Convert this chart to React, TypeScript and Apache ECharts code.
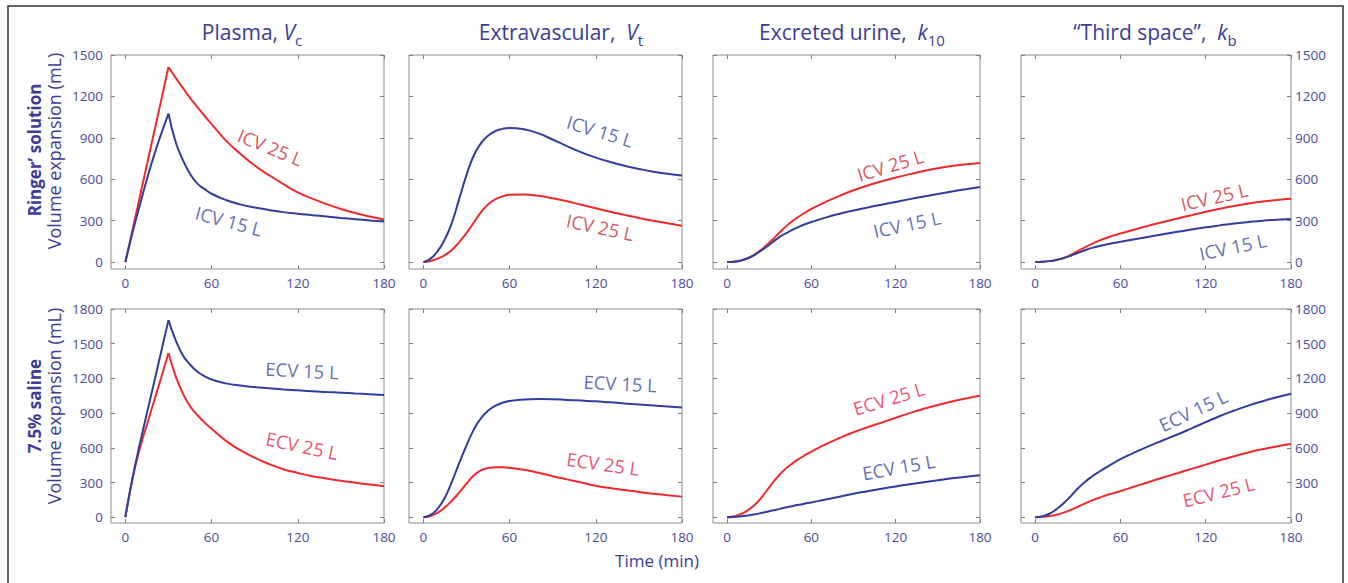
import React, { useEffect, useRef } from "react";
import * as echarts from "echarts";

// ---------- data ----------
const T = [0, 5, 10, 15, 20, 25, 30, 35, 40, 45, 50, 55, 60, 70, 80, 90, 100, 110, 120, 130, 140, 150, 160, 170, 180];
const TIME_TICKS = [0, 60, 120, 180];
const Y_TICKS_RINGER = [0, 300, 600, 900, 1200, 1500];
const Y_TICKS_SALINE = [0, 300, 600, 900, 1200, 1500, 1800];

// Ringer's solution (ICV 15 L = blue, ICV 25 L = red)
const ringerPlasma15 = [0, 215, 410, 600, 775, 930, 1076, 870, 740, 640, 570, 530, 495, 450, 418, 395, 378, 362, 350, 340, 330, 320, 311, 302, 294];
const ringerPlasma25 = [0, 235, 470, 705, 940, 1175, 1413, 1335, 1262, 1190, 1125, 1060, 1000, 880, 785, 700, 630, 565, 505, 460, 420, 385, 355, 330, 308];
const ringerExtra15 = [0, 25, 80, 165, 290, 460, 630, 770, 860, 915, 948, 965, 972, 962, 932, 888, 840, 795, 757, 725, 698, 675, 655, 640, 627];
const ringerExtra25 = [0, 8, 25, 50, 90, 145, 210, 285, 360, 418, 455, 475, 487, 490, 480, 462, 440, 415, 390, 365, 342, 320, 300, 282, 264];
const ringerUrine15 = [0, 3, 12, 28, 54, 88, 125, 165, 198, 226, 250, 272, 290, 322, 350, 374, 396, 416, 436, 456, 475, 493, 511, 528, 544];
const ringerUrine25 = [0, 3, 12, 30, 58, 95, 140, 190, 240, 285, 322, 355, 385, 435, 480, 520, 555, 585, 612, 637, 660, 680, 696, 708, 718];
const ringerThird15 = [0, 2, 7, 16, 29, 46, 66, 86, 103, 117, 128, 138, 147, 166, 184, 202, 220, 236, 252, 266, 279, 290, 300, 307, 313];
const ringerThird25 = [0, 2, 7, 16, 30, 52, 80, 106, 132, 155, 175, 192, 207, 236, 264, 291, 316, 340, 364, 386, 406, 424, 439, 450, 458];

// 7.5% saline (ECV 15 L = blue, ECV 25 L = red)
const salinePlasma15 = [0, 340, 630, 900, 1165, 1435, 1704, 1530, 1400, 1320, 1260, 1220, 1190, 1157, 1138, 1125, 1115, 1105, 1097, 1089, 1083, 1077, 1070, 1064, 1057];
const salinePlasma25 = [0, 335, 590, 800, 1005, 1210, 1420, 1220, 1070, 960, 885, 820, 765, 660, 580, 515, 460, 415, 383, 355, 335, 315, 298, 282, 268];
const salineExtra15 = [0, 20, 75, 170, 310, 470, 620, 755, 855, 920, 962, 990, 1005, 1018, 1021, 1020, 1014, 1008, 1002, 993, 984, 975, 966, 957, 948];
const salineExtra25 = [0, 10, 40, 85, 145, 215, 290, 360, 405, 425, 433, 432, 427, 410, 385, 355, 327, 300, 272, 252, 235, 218, 203, 190, 178];
const salineUrine15 = [0, 2, 8, 15, 25, 38, 52, 65, 80, 92, 105, 117, 128, 153, 177, 203, 225, 246, 266, 285, 303, 320, 336, 350, 363];
const salineUrine25 = [0, 8, 28, 62, 110, 178, 258, 335, 400, 452, 495, 533, 568, 630, 685, 735, 778, 818, 860, 900, 938, 970, 1000, 1026, 1050];
const salineThird15 = [0, 8, 30, 70, 120, 182, 248, 305, 352, 393, 430, 467, 503, 560, 615, 665, 715, 768, 822, 875, 922, 965, 1003, 1037, 1067];
const salineThird25 = [0, 3, 10, 22, 40, 63, 90, 118, 145, 168, 190, 208, 226, 265, 305, 343, 380, 418, 455, 492, 527, 560, 588, 612, 632];

// curve annotations: [text, time, value, rotation, colour key]
const ringerPlasmaNotes = [["ICV 25 L", 101, 835, -22, "r"], ["ICV 15 L", 72, 300, -15, "b"]];
const ringerExtraNotes = [["ICV 15 L", 123, 951, -17, "b"], ["ICV 25 L", 123, 256, -12, "r"]];
const ringerUrineNotes = [["ICV 25 L", 116, 704, 17, "r"], ["ICV 15 L", 128, 277, 12, "b"]];
const ringerThirdNotes = [["ICV 25 L", 126, 475, 13, "r"], ["ICV 15 L", 139, 113, 12, "b"]];
const salinePlasmaNotes = [["ECV 15 L", 123, 1271, -3, "b"], ["ECV 25 L", 123, 621, -12, "p"]];
const salineExtraNotes = [["ECV 15 L", 137, 1159, -3, "b"], ["ECV 25 L", 125, 465, -8, "p"]];
const salineUrineNotes = [["ECV 25 L", 115, 1029, 17, "p"], ["ECV 15 L", 122, 437, 10, "b"]];
const salineThirdNotes = [["ECV 15 L", 111, 925, 25, "b"], ["ECV 25 L", 129, 222, 14, "p"]];

const TITLES = [
  ["Plasma, ", "V", "c"],
  ["Extravascular,  ", "V", "t"],
  ["Excreted urine,  ", "k", "10"],
  ["\u201CThird space\u201D,  ", "k", "b"],
];

// ---------- styling ----------
const FONT = "'Open Sans', 'Noto Sans', sans-serif";
const NAVY = "#3c3c96";
const TICK_TEXT = "#4a4a9e";
const BLUE = "#2f3e9e";
const RED = "#f02a2a";
const NOTE_COLORS: Record<string, string> = { b: "#3a48a8", r: "#cc2b33", p: "#e8244f" };

const COL_LEFT = [111, 409, 713, 1021];
const COL_WIDTH = [273, 273, 267, 270];
const ROW_TOP = [55, 309];
const ROW_HEIGHT = [214, 214];
const TITLE_X = [252, 561, 852, 1155];

const panels = [
  { row: 0, col: 0, blue: ringerPlasma15, red: ringerPlasma25, cusp: true, notes: ringerPlasmaNotes },
  { row: 0, col: 1, blue: ringerExtra15, red: ringerExtra25, cusp: false, notes: ringerExtraNotes },
  { row: 0, col: 2, blue: ringerUrine15, red: ringerUrine25, cusp: false, notes: ringerUrineNotes },
  { row: 0, col: 3, blue: ringerThird15, red: ringerThird25, cusp: false, notes: ringerThirdNotes },
  { row: 1, col: 0, blue: salinePlasma15, red: salinePlasma25, cusp: true, notes: salinePlasmaNotes },
  { row: 1, col: 1, blue: salineExtra15, red: salineExtra25, cusp: false, notes: salineExtraNotes },
  { row: 1, col: 2, blue: salineUrine15, red: salineUrine25, cusp: false, notes: salineUrineNotes },
  { row: 1, col: 3, blue: salineThird15, red: salineThird25, cusp: false, notes: salineThirdNotes },
];

const plain = (v: number) => String(v);

function buildOption() {
  const grid: any[] = [];
  const xAxis: any[] = [];
  const yAxis: any[] = [];
  const series: any[] = [];

  panels.forEach((p, i) => {
    grid.push({
      left: COL_LEFT[p.col],
      top: ROW_TOP[p.row],
      width: COL_WIDTH[p.col],
      height: ROW_HEIGHT[p.row],
      show: true,
      borderColor: "#8c8c8c",
      borderWidth: 1,
      backgroundColor: "transparent",
    });
    const yTicks = p.row === 0 ? Y_TICKS_RINGER : Y_TICKS_SALINE;
    const yMax = p.row === 0 ? 1500 : 1800;
    const tickStyle = { show: true, inside: true, length: 4, lineStyle: { color: "#808080", width: 1 } };
    const labelStyle = { color: TICK_TEXT, fontFamily: FONT, fontSize: 13.5, formatter: plain };
    const noLine = { show: false, onZero: false };
    xAxis.push({
      type: "value", gridIndex: i, min: -10, max: 180, position: "bottom",
      axisLine: noLine, splitLine: { show: false },
      axisTick: { ...tickStyle, customValues: TIME_TICKS },
      axisLabel: { ...labelStyle, margin: 7, customValues: TIME_TICKS },
    });
    xAxis.push({
      type: "value", gridIndex: i, min: -10, max: 180, position: "top",
      axisLine: noLine, splitLine: { show: false },
      axisTick: { ...tickStyle, customValues: TIME_TICKS },
      axisLabel: { show: false },
    });
    yAxis.push({
      type: "value", gridIndex: i, min: -50, max: yMax, position: "left",
      axisLine: noLine, splitLine: { show: false },
      axisTick: { ...tickStyle, customValues: yTicks },
      axisLabel: p.col === 0 ? { ...labelStyle, margin: 8, customValues: yTicks } : { show: false },
    });
    yAxis.push({
      type: "value", gridIndex: i, min: -50, max: yMax, position: "right",
      axisLine: noLine, splitLine: { show: false },
      axisTick: { ...tickStyle, customValues: yTicks },
      axisLabel: p.col === 3 ? { ...labelStyle, margin: 4, customValues: yTicks } : { show: false },
    });
    const xi = i * 2;
    const yi = i * 2;
    const addLine = (vals: number[], color: string) => {
      const pts = T.map((t, k) => [t, vals[k]]);
      const parts = p.cusp ? [pts.slice(0, 7), pts.slice(6)] : [pts];
      parts.forEach((d) => {
        series.push({
          type: "line", xAxisIndex: xi, yAxisIndex: yi, data: d,
          showSymbol: false, symbol: "none", smooth: 0.5,
          lineStyle: { color, width: 2 }, silent: true, z: 3,
        });
      });
    };
    addLine(p.red, RED);
    addLine(p.blue, BLUE);
    p.notes.forEach((n: any[]) => {
      series.push({
        type: "scatter", xAxisIndex: xi, yAxisIndex: yi, silent: true, z: 5,
        symbolSize: 0, itemStyle: { color: "rgba(0,0,0,0)" },
        data: [[n[1], n[2]]],
        label: {
          show: true, position: "inside", formatter: n[0], rotate: n[3],
          color: NOTE_COLORS[n[4]], fontFamily: FONT, fontSize: 18.5, fontWeight: "normal",
        },
      });
    });
  });

  const tok = { color: NAVY, fontFamily: FONT, fontWeight: "normal" };
  const rich = {
    a: { ...tok, fontSize: 21, lineHeight: 30, verticalAlign: "middle" },
    i: { ...tok, fontSize: 21, fontStyle: "italic", lineHeight: 30, verticalAlign: "middle" },
    s: { ...tok, fontSize: 15, lineHeight: 18, verticalAlign: "bottom" },
  };
  const title = TITLES.map((tt, c) => ({
    text: `{a|${tt[0]}}{i|${tt[1]}}{s|${tt[2]}}`,
    left: TITLE_X[c],
    top: 17,
    textAlign: "center",
    padding: 0,
    textStyle: { fontWeight: "normal", rich },
  }));

  const axisName = (x: number, y: number, text: string, bold: boolean, size: number) => ({
    type: "text", x, y, rotation: Math.PI / 2, silent: true,
    style: {
      text, fill: NAVY, font: `${bold ? "bold " : ""}${size}px ${FONT}`,
      align: "center", verticalAlign: "middle",
    },
  });

  const graphic = [
    { type: "rect", shape: { x: 8, y: 6, width: 1335, height: 600 }, style: { fill: "none", stroke: "#333", lineWidth: 1.5 }, silent: true },
    axisName(34, 150, "Ringer\u2019 solution", true, 17),
    axisName(54, 151, "Volume expansion (mL)", false, 18),
    axisName(34, 406, "7.5% saline", true, 17),
    axisName(54, 406, "Volume expansion (mL)", false, 18),
    {
      type: "text", x: 657, y: 560, silent: true,
      style: { text: "Time (min)", fill: NAVY, font: `17px ${FONT}`, align: "center", verticalAlign: "middle" },
    },
  ];

  return { animation: false, backgroundColor: "#ffffff", title, grid, xAxis, yAxis, series, graphic };
}

export default function App() {
  const ref = useRef<HTMLDivElement>(null);
  useEffect(() => {
    if (!ref.current) return;
    const chart = echarts.init(ref.current, undefined, { renderer: "svg" });
    chart.setOption(buildOption() as any);
    return () => chart.dispose();
  }, []);
  return (
    <div
      ref={ref}
      style={{ position: "fixed", left: 0, top: 0, width: 1348, height: 583, background: "#fff" }}
    />
  );
}
